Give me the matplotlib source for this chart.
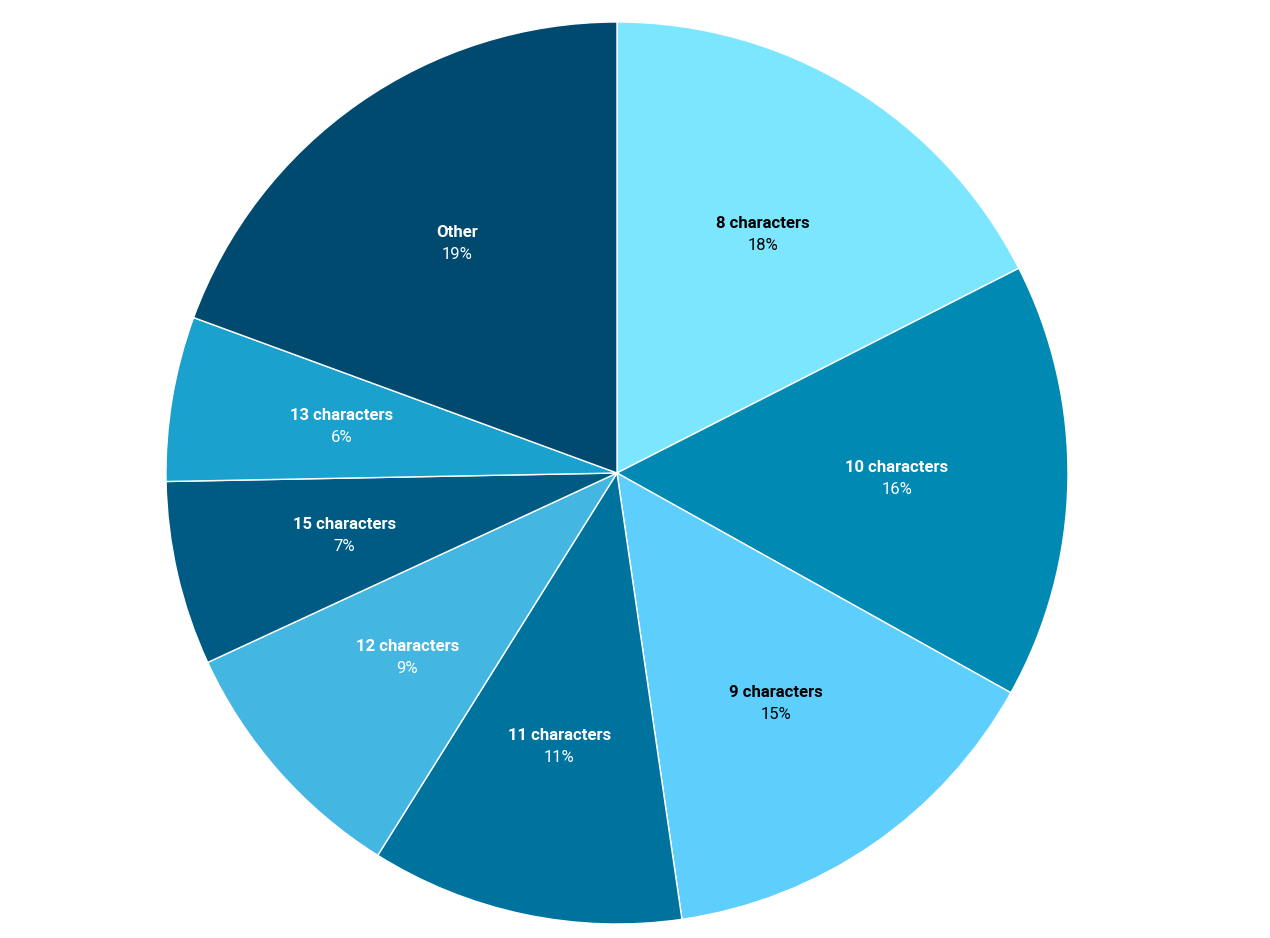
import matplotlib
matplotlib.use("Agg")
import matplotlib.pyplot as plt
import numpy as np

labels = ["8 characters", "10 characters", "9 characters", "11 characters",
          "12 characters", "15 characters", "13 characters", "Other"]
values = [17.5, 15.6, 14.6, 11.2, 9.2, 6.6, 5.9, 19.4]
shown = ["18%", "16%", "15%", "11%", "9%", "7%", "6%", "19%"]
colors = ["#7ce6ff", "#0089b3", "#5ecefc", "#00729e", "#43b6e2",
          "#005b84", "#1ba1cd", "#004a70"]
text_colors = ["black", "white", "black", "white", "white", "white", "white", "white"]

plt.rcParams['font.family'] = ['Roboto', 'DejaVu Sans']
fig = plt.figure(figsize=(12.7, 9.38), dpi=100)
ax = fig.add_axes([0, 0, 1, 1])
cx, cy, r = 617, 938 - 473, 451
wedges, _ = ax.pie(values, colors=colors, startangle=90, counterclock=False,
                   radius=r, center=(cx, cy),
                   wedgeprops=dict(edgecolor="white", linewidth=1))
ax.set_xlim(0, 1270)
ax.set_ylim(0, 938)
ax.set_aspect("equal")
ax.axis("off")

for w, lab, pct, tc in zip(wedges, labels, shown, text_colors):
    ang = np.deg2rad((w.theta1 + w.theta2) / 2)
    x = cx + 0.62 * r * np.cos(ang)
    y = cy + 0.62 * r * np.sin(ang)
    ax.text(x, y + 11, lab, ha="center", va="center", fontsize=12,
            fontweight="bold", color=tc)
    ax.text(x, y - 11, pct, ha="center", va="center", fontsize=12, color=tc)

fig.savefig("out.png", dpi=100)
